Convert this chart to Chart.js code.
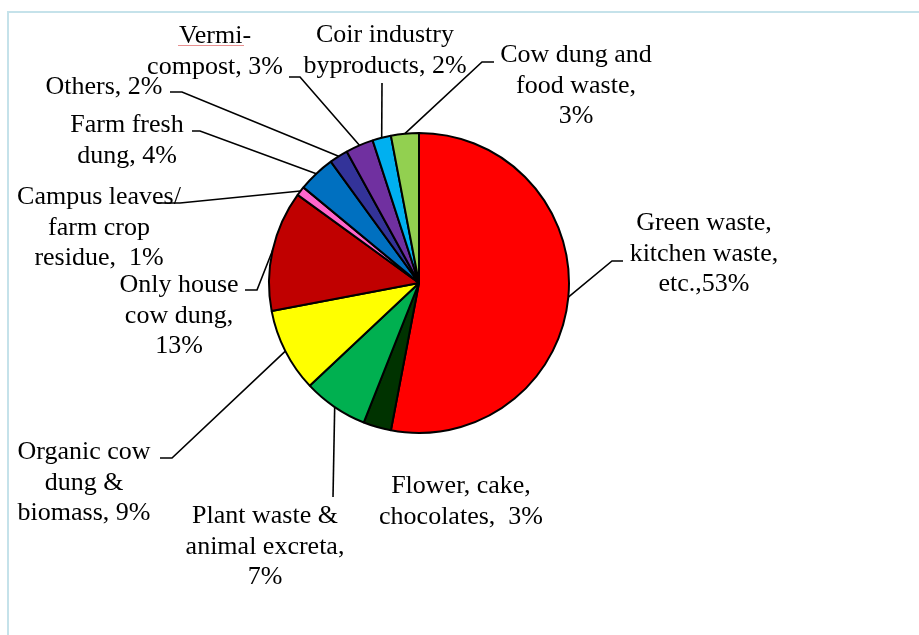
<!DOCTYPE html>
<html>
<head>
<meta charset="utf-8">
<script src="https://cdn.jsdelivr.net/npm/chart.js@4.4.0/dist/chart.umd.min.js"></script>
<style>
	html, body { margin: 0; padding: 0; background: #fff; }
	#wrap { position: relative; width: 919px; height: 635px; }
</style>
</head>
<body>
<div id="wrap"><canvas id="pieChart" width="919" height="635"></canvas></div>
<script>
// slices, clockwise from 12 o'clock; the value + '%' is appended to each name
var categories = [
	'Green waste,\nkitchen waste,\netc.,',
	'Flower, cake,\nchocolates,  ',
	'Plant waste &\nanimal excreta,\n',
	'Organic cow\ndung &\nbiomass, ',
	'Only house\ncow dung,\n',
	'Campus leaves/\nfarm crop\nresidue,  ',
	'Farm fresh\ndung, ',
	'Others, ',
	'Vermi-\ncompost, ',
	'Coir industry\nbyproducts, ',
	'Cow dung and\nfood waste,\n'
];
var values = [53, 3, 7, 9, 13, 1, 4, 2, 3, 2, 3];
var sliceColors = ['#FF0000', '#003300', '#00B050', '#FFFF00', '#C00000', '#FF66CC',
	'#0070C0', '#333399', '#7030A0', '#00B0F0', '#92D050'];

// label placement: centre x, first baseline y, leader points after the slice edge
var labelSpots = [
	{ x: 704, y: 230, line: [[612, 261], [623, 261]] },
	{ x: 461, y: 493, line: null },
	{ x: 265, y: 523, line: [[333, 497]] },
	{ x: 84,  y: 459, line: [[172, 458], [160, 458]] },
	{ x: 179, y: 292, line: [[257, 290], [245, 290]] },
	{ x: 99,  y: 204, line: [[180, 203], [157, 203]] },
	{ x: 127, y: 132, line: [[200, 131], [192, 131]] },
	{ x: 104, y: 94,  line: [[182, 92], [170, 92]] },
	{ x: 215, y: 43,  line: [[300, 77], [289, 77]] },
	{ x: 385, y: 42,  line: [[382, 83]] },
	{ x: 576, y: 62,  line: [[482, 62], [494, 62]] }
];
var lineGap = 30.5;

/* frame + labels plugin */
var pieLabels = {
	id: 'pieLabels',
	beforeDraw: function (chart) {
		var ctx = chart.ctx;
		ctx.save();
		ctx.strokeStyle = '#C5E2EA';
		ctx.lineWidth = 2;
		ctx.beginPath();
		ctx.moveTo(8, 635);
		ctx.lineTo(8, 12);
		ctx.lineTo(919, 12);
		ctx.stroke();
		ctx.restore();
	},
	afterDatasetsDraw: function (chart) {
		var ctx = chart.ctx;
		var arcs = chart.getDatasetMeta(0).data;
		ctx.save();
		ctx.strokeStyle = '#000';
		ctx.lineWidth = 1.6;
		ctx.fillStyle = '#000';
		ctx.font = '26px "Liberation Serif", "Times New Roman", serif';
		ctx.textAlign = 'center';
		ctx.textBaseline = 'alphabetic';
		arcs.forEach(function (arc, i) {
			var spot = labelSpots[i];
			if (spot.line) {
				var mid = (arc.startAngle + arc.endAngle) / 2;
				ctx.beginPath();
				ctx.moveTo(arc.x + Math.cos(mid) * arc.outerRadius, arc.y + Math.sin(mid) * arc.outerRadius);
				spot.line.forEach(function (p) { ctx.lineTo(p[0], p[1]); });
				ctx.stroke();
			}
			var lines = (categories[i] + values[i] + '%').split('\n');
			lines.forEach(function (t, k) {
				ctx.fillText(t, spot.x, spot.y + k * lineGap);
			});
		});
		// spell-check squiggle under "Vermi"
		ctx.strokeStyle = '#E89090';
		ctx.lineWidth = 1;
		ctx.beginPath();
		ctx.moveTo(178, 45.5);
		ctx.lineTo(244, 45.5);
		ctx.stroke();
		ctx.restore();
	}
};

var ctx = document.getElementById('pieChart').getContext('2d');
var myChart = new Chart(ctx, {
	type: 'pie',
	data: {
		labels: categories,
		datasets: [{
			data: values,
			backgroundColor: sliceColors,
			borderColor: '#000',
			borderWidth: 2
		}]
	},
	options: {
		responsive: false,
		animation: false,
		layout: {
			padding: { left: 268, right: 349, top: 132, bottom: 201 }
		},
		plugins: {
			legend: { display: false },
			tooltip: { enabled: false }
		}
	},
	plugins: [pieLabels]
});
</script>
</body>
</html>
